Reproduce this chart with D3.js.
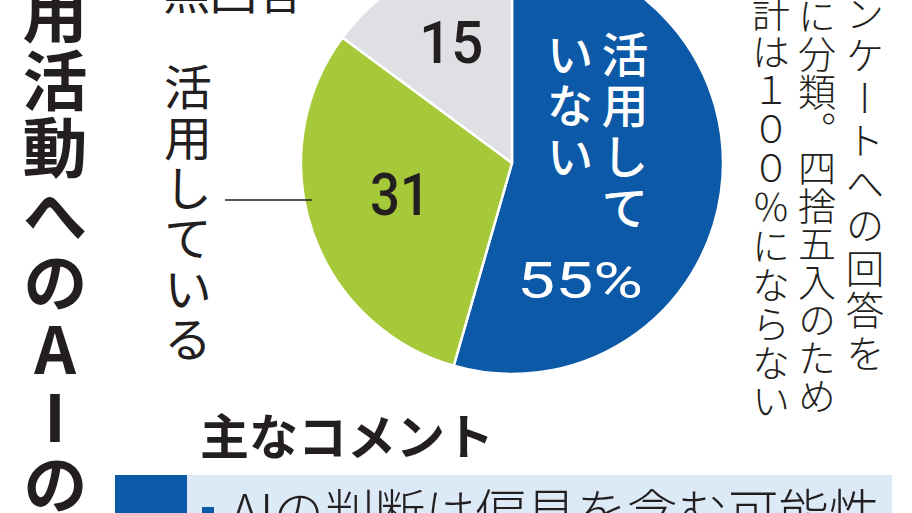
<!DOCTYPE html>
<html>
<head>
<meta charset="utf-8">
<script src="https://cdn.jsdelivr.net/npm/d3@7"></script>
<style>
  html, body { margin: 0; padding: 0; background: #fff; overflow: hidden; }
  svg { display: block; }
  text { font-family: "Noto Sans CJK JP", "Noto Sans CJK SC", sans-serif; }
  text.num { font-family: Roboto, "Liberation Sans", sans-serif; }
</style>
</head>
<body>
<svg id="chart" width="912" height="513"></svg>
<script>
// ---- data ----
const categories = ["活用していない", "活用している", "無回答"];
const shares = [55, 31, 15];
const titleText = "採用活動へのAIの活用";
const noteLines = ["アンケートへの回答を", "３項目に分類。四捨五入のため", "合計は１００％にならない"];
const commentHeading = "主なコメント";
const comments = ["AIの判断は偏見を含む可能性"];

// ---- styles ----
const sliceColors = ["#0b59a7", "#a6c93a", "#dfe0e3"];
const ink = "#231f20";
const bandBlue = "#0b59a7";
const bandLight = "#dce9f6";

const svg = d3.select("#chart");

// helper: vertical (tategaki) text column
function vtext(g, str, x, y0, size, spacing, weight, fill) {
  return g.append("text")
    .attr("x", x).attr("y", y0)
    .style("writing-mode", "vertical-rl")
    .style("text-orientation", "upright")
    .style("letter-spacing", spacing + "px")
    .attr("font-size", size)
    .attr("font-weight", weight)
    .attr("fill", fill)
    .text(str);
}

// ---- title (vertical, left edge) ----
vtext(svg, titleText, 55, -87.3, 65, 2.4, 700, ink);

// ---- pie ----
const cx = 512, cy = 163, R = 211;
const pie = d3.pie().sort(null).value(d => d)(shares);
const arc = d3.arc().innerRadius(0).outerRadius(R);
const gPie = svg.append("g").attr("transform", `translate(${cx},${cy})`);

gPie.selectAll("path.slice")
  .data(pie)
  .join("path")
  .attr("class", "slice")
  .attr("d", arc)
  .attr("fill", (d, i) => sliceColors[i])
  .attr("stroke", "#fff")
  .attr("stroke-width", 2.5)
  .attr("stroke-linejoin", "round");

// value labels for the outside-labelled slices
const labelK = [null, 0.56, 0.64];
const labelNudge = [0, -7, 0];
const labelWidth = [null, 60, 64];
pie.forEach((d, i) => {
  if (i === 0) return;
  const a = (d.startAngle + d.endAngle) / 2;
  const r = R * labelK[i];
  const x = Math.sin(a) * r, y = -Math.cos(a) * r + labelNudge[i];
  gPie.append("text")
    .attr("class", "num")
    .attr("x", x).attr("y", y + 21)
    .attr("text-anchor", "middle")
    .attr("font-size", 59)
    .attr("font-weight", 500)
    .attr("fill", ink)
    .attr("textLength", labelWidth[i])
    .attr("lengthAdjust", "spacingAndGlyphs")
    .text(shares[i]);
});

// largest slice: name in two vertical columns plus percentage
const nameMain = categories[0];
vtext(gPie, nameMain.slice(0, 4), 113, 31 - cy, 47, 4, 500, "#fff");
vtext(gPie, nameMain.slice(4), 58, 31 - cy, 47, 4, 500, "#fff");
gPie.append("text")
  .attr("class", "num")
  .attr("x", 68).attr("y", 298 - cy)
  .attr("text-anchor", "middle")
  .attr("font-size", 50)
  .attr("font-weight", 400)
  .attr("fill", "#fff")
  .attr("textLength", 126)
  .attr("lengthAdjust", "spacingAndGlyphs")
  .text(shares[0] + "%");

// outside labels
vtext(svg, categories[1], 188, 63, 48, 2.4, 400, ink);
svg.append("line")
  .attr("x1", 225).attr("x2", cx - R + 11)
  .attr("y1", 200).attr("y2", 200)
  .attr("stroke", ink).attr("stroke-width", 1.6);

svg.append("text")
  .attr("x", 163).attr("y", 9)
  .attr("font-size", 47)
  .attr("font-weight", 400)
  .attr("fill", ink)
  .text(categories[2]);

// ---- note (vertical, right side) ----
vtext(svg, noteLines[0], 865, -48.75, 38.5, 4, 300, ink);
vtext(svg, noteLines[1], 817, -117.4, 38, 0, 300, ink);
vtext(svg, noteLines[2], 771, -44.8, 38, 0.8, 300, ink);

// ---- comments ----
svg.append("text")
  .attr("x", 200).attr("y", 455)
  .attr("font-size", 49)
  .attr("font-weight", 700)
  .attr("fill", ink)
  .text(commentHeading);

svg.append("rect")
  .attr("x", 187).attr("y", 475).attr("width", 705).attr("height", 60)
  .attr("fill", bandLight);
svg.append("rect")
  .attr("x", 115).attr("y", 475).attr("width", 72).attr("height", 60)
  .attr("fill", bandBlue);
svg.append("rect")
  .attr("x", 202).attr("y", 507).attr("width", 12).attr("height", 12)
  .attr("fill", bandBlue);
svg.append("text")
  .attr("x", 230).attr("y", 531)
  .attr("font-size", 50.5)
  .attr("font-weight", 300)
  .attr("fill", ink)
  .text(comments[0]);
</script>
</body>
</html>
